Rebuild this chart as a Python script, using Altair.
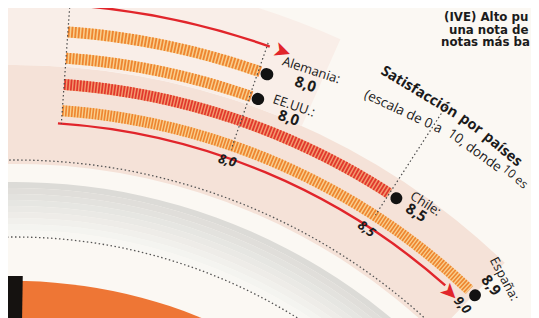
import math
import altair as alt
import pandas as pd

# ---------------- data ----------------
countries = ["Alemania", "EE.UU.", "Chile", "España"]
scores = [8.0, 8.0, 8.5, 8.9]
tick_values = [8.0, 8.5, 9.0]
tick_labels = ["8,0", "8,5", "9,0"]
scale_start = 7.42          # value where the bars start (left dotted line)

title_words = ["Satisfacción", "por", "países"]
subtitle_parts = ["(escala de 0 a", "10, donde", "10 es"]
side_lines = ["(IVE) Alto pu", "una nota de", "notas más ba"]

bars = pd.DataFrame({"country": countries, "score": scores})
ticks = pd.DataFrame({"tick": tick_values, "label": tick_labels})
one = pd.DataFrame({"k": [0]})

# ---------------- layout / style ----------------
W, H = 523, 310
CX, CY = 7, 762            # centre of the concentric rings (plot pixels)
FONT = "Open Sans"
INK = "#1b1b1b"
RED = "#E1252B"


def rad(d):
    return d * math.pi / 180.0


theta_scale = alt.Scale(domain=[scale_start, 8.0, 8.5, 8.9, 9.0],
                        range=[rad(4.1), rad(19.2), rad(33.0), rad(43.4), rad(43.9)])
ring_order = ["España", "Chile", "EE.UU.", "Alemania"]
radius_scale = alt.Scale(type="point", domain=ring_order, range=[661, 740], padding=0)

C = dict(x=alt.value(CX), y=alt.value(CY))


def TH(field):
    return alt.Theta(field, type="quantitative", scale=theta_scale, stack=False)


R = alt.Radius("country:N", scale=radius_scale)


def ring(r_out, r_in, d0, d1, color, **kw):
    enc = dict(C, theta=alt.value(rad(d0)), theta2=alt.value(rad(d1)), radius=alt.value(r_out))
    if r_in is not None:
        enc["radius2"] = alt.value(r_in)
    return alt.Chart(one).mark_arc(color=color, **kw).encode(**enc)


def radial(v, r_in, r_out):
    return (alt.Chart(pd.DataFrame({"v": [v]}))
            .mark_arc(filled=False, color="#4a4a4a", strokeWidth=1.2, strokeDash=[1.5, 2.5])
            .encode(**C, theta=TH("v"), theta2=alt.Theta2("v"),
                    radius=alt.value(r_out), radius2=alt.value(r_in)))


def polar_text(txt, deg, r, angle, size, **kw):
    return (alt.Chart(one).mark_text(text=txt, angle=angle, fontSize=size, align="center",
                                     baseline="middle", **kw)
            .encode(**C, theta=alt.value(rad(deg)), radius=alt.value(r)))


layers = []
# background pieces of the larger infographic
layers.append(ring(489, None, -40, 70, "#EE7635"))
layers.append(ring(494, None, -30, 0.9, "#151210"))
# soft grey shadow band (stepped gradient)
g0, g1 = (220, 219, 215), (248, 247, 243)
steps = 9
for i in range(steps):
    f = i / (steps - 1)
    col = "#%02x%02x%02x" % tuple(round(a + (b - a) * f) for a, b in zip(g0, g1))
    r_out = 588 - i * 6
    layers.append(ring(r_out, r_out - 6, -40, 80, col))
layers.append(ring(705, 606, -40, 44, "#F5E2D8"))
layers.append(ring(800, 705, -40, 24, "#F9EEE8"))
layers.append(ring(610, None, -40, 80, "#555555", filled=False, strokeWidth=1.3, strokeDash=[1.5, 2.5]))
layers.append(ring(533, None, -40, 80, "#555555", filled=False, strokeWidth=1.3, strokeDash=[1.5, 2.5]))

# red arrows
layers.append(ring(768.2, 765.8, 4.0, 19.4, RED))
layers.append(polar_text("➤", 20.4, 767, 20, 22, color=RED, font="DejaVu Sans"))
layers.append(ring(649.2, 646.8, 3.8, 41.6, RED))
layers.append(polar_text("➤", 42.3, 646, 45, 22, color=RED, font="DejaVu Sans"))

# bars: light base + hatching stripes
is_chile = alt.datum.country == "Chile"
base = (alt.Chart(bars).transform_calculate(base=str(scale_start))
        .mark_arc(radiusOffset=5.5, radius2Offset=-5.5)
        .encode(**C, theta=TH("score"), theta2=alt.Theta2("base"), radius=R,
                radius2=alt.Radius2("country"),
                color=alt.condition(is_chile, alt.value("#F29A70"), alt.value("#F8CF8E"))))
layers.append(base)
stripes = (alt.Chart(bars)
           .transform_calculate(t=f"sequence({scale_start}, datum.score, 0.01)")
           .transform_flatten(["t"])
           .transform_calculate(t2="datum.t + 0.0055")
           .mark_arc(radiusOffset=5.5, radius2Offset=-5.5)
           .encode(**C, theta=TH("t"), theta2=alt.Theta2("t2"), radius=R,
                   radius2=alt.Radius2("country"),
                   color=alt.condition(is_chile, alt.value("#E1372C"), alt.value("#EE8530"))))
layers.append(stripes)

# dotted radial guide lines
layers.append(radial(scale_start, 648, 764.75))
layers.append(radial(8.0, 657, 769.75))
layers.append(radial(8.5, 662, 790.75))

# end dots
dots = (alt.Chart(bars)
        .mark_arc(color="#121212", radiusOffset=6, radius2Offset=-6,
                  thetaOffset=0.0035, theta2Offset=0.021, cornerRadius=6)
        .encode(**C, theta=TH("score"), theta2=alt.Theta2("score"), radius=R,
                radius2=alt.Radius2("country")))
layers.append(dots)

# country labels
label_layout = {
    "Alemania": ((50, -17, 18), (49, -2, 18)),
    "EE.UU.": ((45, -5, 19), (44, 8, 19)),
    "Chile": ((36, -11, 33), (33, 2, 32)),
    "España": ((7, -36, 62), (10, -20, 52)),
}
for c in countries:
    (ndx, ndy, nang), (vdx, vdy, vang) = label_layout[c]
    lab = (alt.Chart(bars).transform_filter(alt.datum.country == c)
           .transform_calculate(name="datum.country + ':'",
                                val="replace(format(datum.score, '.1f'), '.', ',')"))
    layers.append(lab.mark_text(dx=ndx, dy=ndy, angle=nang, font=FONT, fontSize=13,
                                color=INK, align="center", baseline="middle")
                  .encode(**C, theta=TH("score"), radius=R, text="name:N"))
    layers.append(lab.mark_text(dx=vdx, dy=vdy, angle=vang, font=FONT, fontSize=15,
                                fontWeight="bold", color=INK, align="center", baseline="middle")
                  .encode(**C, theta=TH("score"), radius=R, text="val:N"))

# tick labels
layers.append(alt.Chart(ticks).mark_text(font=FONT, fontSize=13, fontWeight="bold",
                                          fontStyle="italic", color=INK, align="center",
                                          baseline="middle")
              .encode(**C, theta=TH("tick"), radius=alt.value(645), text="label:N",
                      angle=alt.Angle("tick:Q", scale=alt.Scale(domain=[8.0, 8.5, 9.0],
                                                                 range=[14, 36, 48]))))


def cart_text(txt, x, y, angle, size, weight="normal", align="center", baseline="middle",
              font=FONT):
    return (alt.Chart(one).mark_text(text=txt, angle=angle, fontSize=size, fontWeight=weight,
                                     font=font, color=INK, align=align, baseline=baseline)
            .encode(x=alt.value(x), y=alt.value(y)))


# curved title (word by word, left-anchored), plot pixels
layers.append(cart_text(title_words[0], 374, 62, 31, 14.5, "bold", align="left"))
layers.append(cart_text(title_words[1], 453, 109, 36, 14.5, "bold", align="left"))
layers.append(cart_text(title_words[2], 477, 127, 40, 14.5, "bold", align="left"))
layers.append(cart_text(subtitle_parts[0], 357, 86, 25, 13.5, align="left"))
layers.append(cart_text(subtitle_parts[1], 441, 124, 36, 13.5, align="left"))
layers.append(cart_text(subtitle_parts[2], 496, 159, 41, 12, align="left"))

# cut-off text of the neighbouring block
for txt, x, y in zip(side_lines, [436, 441, 433], [12.7, 25.5, 38.3]):
    layers.append(cart_text(txt, x, y, 0, 11.8, "bold", align="left",
                            baseline="alphabetic", font="DejaVu Sans"))

chart = (alt.layer(*layers)
         .properties(width=W, height=H, padding=0,
                     autosize=alt.AutoSizeParams(type="none"), background="#FBF8F3")
         .configure_view(strokeWidth=0))

chart.save("out.html", embed_options={"renderer": "svg", "actions": False})
